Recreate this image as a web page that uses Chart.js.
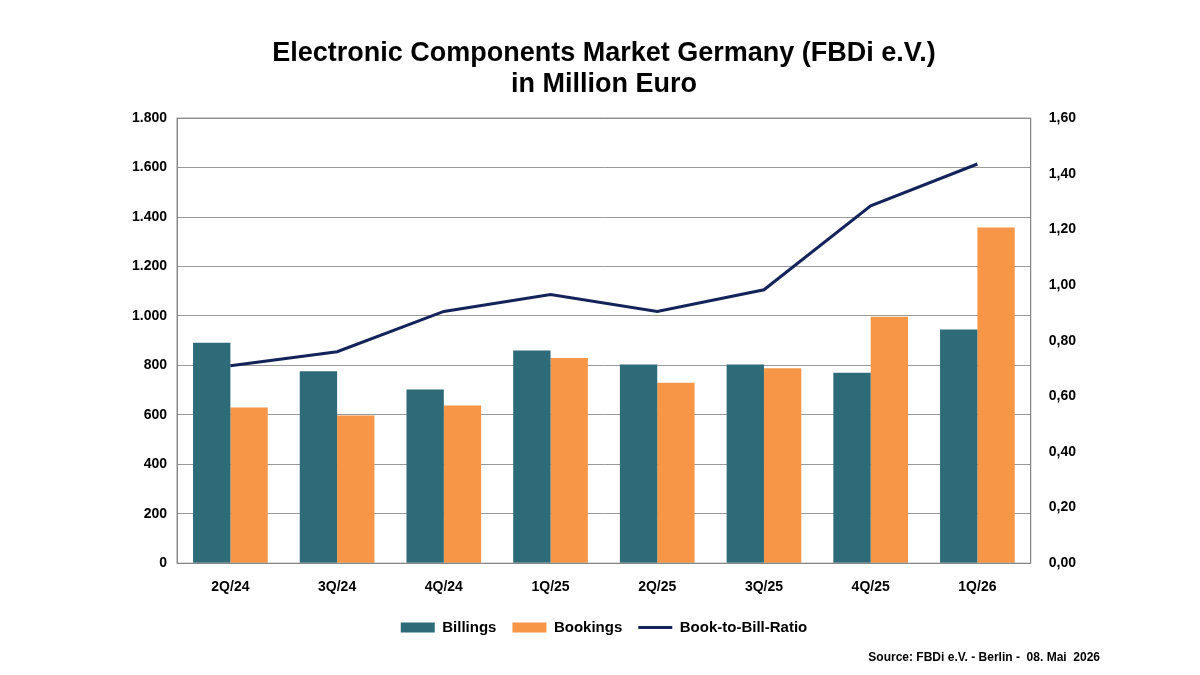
<!DOCTYPE html>
<html>
<head>
<meta charset="utf-8">
<script src="https://cdn.jsdelivr.net/npm/chart.js@4"></script>
<style>
  html, body { margin: 0; padding: 0; background: #fff; }
  #wrap { position: relative; width: 1200px; height: 675px; }
  #source { position: absolute; right: 100px; top: 650px; font: bold 12px "Liberation Sans", Arial, sans-serif; color: #000; }
</style>
</head>
<body>
<div id="wrap">
  <canvas id="chart" width="1200" height="675"></canvas>
  <div id="source">Source: FBDi e.V. - Berlin -&nbsp; 08. Mai&nbsp; 2026</div>
</div>
<script>
const quarters = ['2Q/24', '3Q/24', '4Q/24', '1Q/25', '2Q/25', '3Q/25', '4Q/25', '1Q/26'];
const billings = [892, 776, 702, 860, 804, 804, 770, 945];
const bookings = [630, 597, 638, 830, 730, 788, 997, 1358];
const bookToBill = [0.71, 0.76, 0.905, 0.966, 0.905, 0.983, 1.285, 1.435];

const fontFamily = '"Liberation Sans", Arial, sans-serif';
const lineColor = '#14245a';

const ctx = document.getElementById('chart').getContext('2d');

new Chart(ctx, {
    type: 'bar',
    data: {
        labels: quarters,
        datasets: [{
            label: 'Billings',
            data: billings,
            backgroundColor: '#2e6b79',
            yAxisID: 'y',
            order: 2
        }, {
            label: 'Bookings',
            data: bookings,
            backgroundColor: '#f79646',
            yAxisID: 'y',
            order: 2
        }, {
            type: 'line',
            label: 'Book-to-Bill-Ratio',
            data: bookToBill,
            borderColor: lineColor,
            backgroundColor: lineColor,
            borderWidth: 3,
            pointRadius: 0,
            tension: 0,
            yAxisID: 'y1',
            order: 1
        }]
    },
    options: {
        responsive: false,
        animation: false,
        categoryPercentage: 0.7,
        barPercentage: 1,
        layout: {
            padding: { left: 122, right: 114, top: 20, bottom: 30 }
        },
        plugins: {
            title: {
                display: true,
                text: ['Electronic Components Market Germany (FBDi e.V.)', 'in Million Euro'],
                color: '#000',
                font: { family: fontFamily, size: 27, weight: 'bold', lineHeight: 1.15 },
                padding: { top: 18, bottom: 18 }
            },
            legend: {
                position: 'bottom',
                labels: {
                    color: '#000',
                    font: { family: fontFamily, size: 15, weight: 'bold' },
                    boxWidth: 34,
                    boxHeight: 10,
                    padding: 16,
                    sort: (a, b) => a.datasetIndex - b.datasetIndex,
                    generateLabels: (chart) => {
                        const items = Chart.defaults.plugins.legend.labels.generateLabels(chart);
                        items.forEach(it => { it.lineWidth = 0; });
                        return items.sort((a, b) => a.datasetIndex - b.datasetIndex);
                    }
                }
            },
            tooltip: { enabled: false }
        },
        scales: {
            x: {
                grid: { display: false },
                border: { color: '#888' },
                ticks: { color: '#000', font: { family: fontFamily, size: 14, weight: 'bold' }, padding: 8 }
            },
            y: {
                position: 'left',
                min: 0,
                max: 1800,
                ticks: {
                    stepSize: 200,
                    color: '#000',
                    padding: 10,
                    font: { family: fontFamily, size: 14, weight: 'bold' },
                    callback: v => v.toLocaleString('de-DE')
                },
                grid: { color: '#999', drawTicks: false },
                border: { color: '#888' }
            },
            y1: {
                position: 'right',
                min: 0,
                max: 1.6,
                ticks: {
                    stepSize: 0.2,
                    color: '#000',
                    padding: 10,
                    font: { family: fontFamily, size: 14, weight: 'bold' },
                    callback: v => v.toFixed(2).replace('.', ',')
                },
                grid: { display: false },
                border: { color: '#888' }
            }
        }
    },
    plugins: [{
        id: 'frame',
        afterDraw(chart) {
            const a = chart.chartArea;
            const c = chart.ctx;
            c.save();
            c.strokeStyle = '#888';
            c.lineWidth = 1;
            c.strokeRect(a.left, a.top, a.right - a.left, a.bottom - a.top);
            // legend swatch for the line series: a line instead of a box
            const lg = chart.legend;
            lg.legendItems.forEach((it, i) => {
                if (it.text !== 'Book-to-Bill-Ratio') return;
                const hb = lg.legendHitBoxes[i];
                const y = hb.top + hb.height / 2;
                c.fillStyle = '#fff';
                c.fillRect(hb.left - 1, hb.top, 36, hb.height);
                c.strokeStyle = lineColor;
                c.lineWidth = 3;
                c.beginPath();
                c.moveTo(hb.left, y);
                c.lineTo(hb.left + 34, y);
                c.stroke();
            });
            c.restore();
        }
    }]
});
</script>
</body>
</html>
